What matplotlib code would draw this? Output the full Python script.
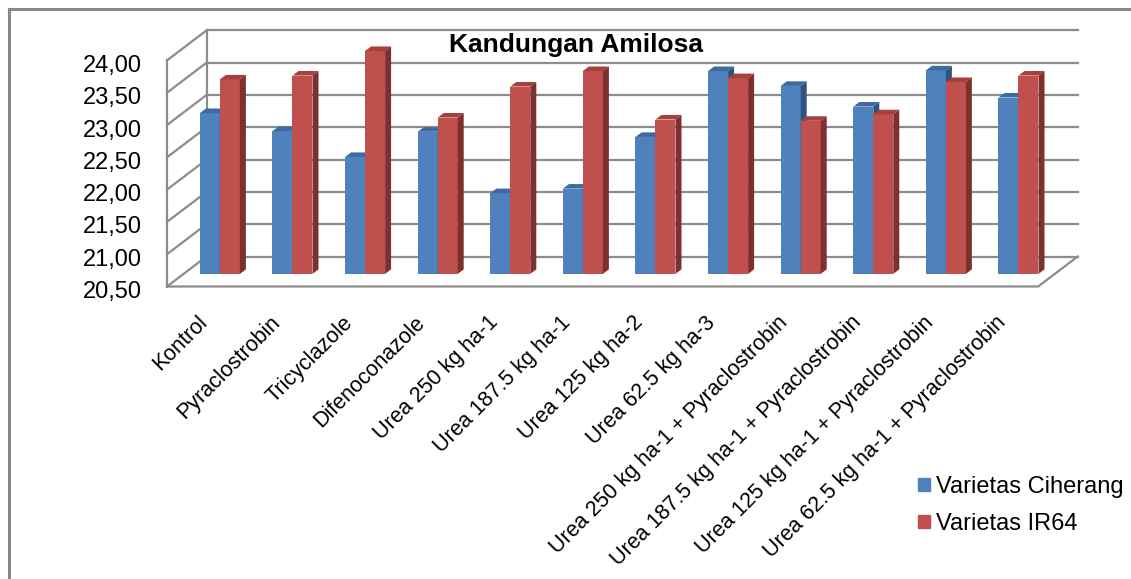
import matplotlib
matplotlib.use('Agg')
import matplotlib.pyplot as plt
from matplotlib.patches import Polygon, Patch
from matplotlib.lines import Line2D
from matplotlib.transforms import ScaledTranslation

plt.rcParams['font.family'] = ['Liberation Sans', 'DejaVu Sans']

# data
categories = ['Kontrol', 'Pyraclostrobin', 'Tricyclazole', 'Difenoconazole',
              'Urea 250 kg ha-1', 'Urea 187.5 kg ha-1', 'Urea 125 kg ha-2',
              'Urea 62.5 kg ha-3', 'Urea 250 kg ha-1 + Pyraclostrobin',
              'Urea 187.5 kg ha-1 + Pyraclostrobin', 'Urea 125 kg ha-1 + Pyraclostrobin',
              'Urea 62.5 kg ha-1 + Pyraclostrobin']
ciherang = [22.99, 22.71, 22.31, 22.70, 21.75, 21.82, 22.62, 23.64, 23.41, 23.09, 23.65, 23.23]
ir64 = [23.51, 23.57, 23.95, 22.92, 23.40, 23.64, 22.89, 23.53, 22.87, 22.97, 23.47, 23.57]
series_names = ['Varietas Ciherang', 'Varietas IR64']
yticks = [20.5, 21.0, 21.5, 22.0, 22.5, 23.0, 23.5, 24.0]
ymin = 20.5

# faces: front, top, side
blue = ('#4F81BD', '#3E6AA3', '#2F5380')
red = ('#C0504D', '#A5403D', '#7E302E')

W, H = 1131, 579
fig = plt.figure(figsize=(W / 100, H / 100), dpi=100)

# pixel scales of the reference (per category, per value unit)
cx, cy = 72.6, 64.6
x0_px, y0_px, x1_px, y1_px = 167, 286.5, 1079, 30
ax = fig.add_axes([x0_px / W, (H - y0_px) / H, (x1_px - x0_px) / W, (y0_px - y1_px) / H])
ax.set_xlim(-0.5, -0.5 + (x1_px - x0_px) / cx)
ax.set_ylim(ymin, ymin + (y0_px - y1_px) / cy)
for s in ax.spines.values():
    s.set_visible(False)

# depth vector of the 3D box, in data units
dx, dy = 39.5 / cx, 30 / cy
n = len(categories)
xl, xr = -0.5, n - 0.5
grid_kw = dict(color='#8c8c8c', lw=1.6, clip_on=False, zorder=1)

# back wall gridlines and left wall diagonals
for v in yticks:
    ax.plot([xl + dx, xr + dx], [v + dy, v + dy], **grid_kw)
    ax.plot([xl, xl + dx], [v, v + dy], **grid_kw)
ax.plot([xl, xl], [ymin, yticks[-1]], **grid_kw)
ax.plot([xl + dx, xl + dx], [ymin + dy, yticks[-1] + dy], **grid_kw)
# floor
ax.plot([xl, xr, xr + dx], [ymin, ymin, ymin + dy], **grid_kw)

# bars
f0, depth = 0.42, 0.152
w = 20 / cx
bdx, bdy = depth * dx, depth * dy
for k, (vals, cols) in enumerate([(ciherang, blue), (ir64, red)]):
    xs = [i - w + k * w + f0 * dx for i in range(n)]
    bottom = ymin + f0 * dy
    ax.bar(xs, [v - ymin for v in vals], width=w, bottom=bottom, align='edge',
           color=cols[0], zorder=3 + k, clip_on=False)
    for xb, v in zip(xs, vals):
        t = v + f0 * dy
        top = Polygon([(xb, t), (xb + w, t), (xb + w + bdx, t + bdy), (xb + bdx, t + bdy)],
                      closed=True, color=cols[1], lw=0, zorder=3 + k, clip_on=False)
        side = Polygon([(xb + w, bottom), (xb + w, t), (xb + w + bdx, t + bdy),
                        (xb + w + bdx, bottom + bdy)],
                       closed=True, color=cols[2], lw=0, zorder=3 + k, clip_on=False)
        ax.add_patch(top)
        ax.add_patch(side)

# axis labels
ax.set_yticks(yticks)
ax.set_yticklabels([f'{v:.2f}'.replace('.', ',') for v in yticks], fontsize=17)
ax.tick_params(axis='y', length=0, pad=18)
yoff = ScaledTranslation(0, -3 / 100, fig.dpi_scale_trans)
for lab in ax.get_yticklabels():
    lab.set_transform(lab.get_transform() + yoff)

ax.set_xticks(range(n))
ax.set_xticklabels(categories, fontsize=15.5, rotation=45, ha='right', va='center',
                   rotation_mode='anchor')
ax.tick_params(axis='x', length=0, pad=0)
off = ScaledTranslation(1 / 100, -33 / 100, fig.dpi_scale_trans)
for lab in ax.get_xticklabels():
    lab.set_transform(lab.get_transform() + off)

fig.text(576 / W, 1 - 45 / H, 'Kandungan Amilosa', ha='center', va='center',
         fontsize=19, fontweight='bold')

handles = [Patch(color=blue[0]), Patch(color=red[0])]
fig.legend(handles, series_names, loc='upper left', bbox_to_anchor=(918 / W, 1 - 476 / H),
           frameon=False, fontsize=17, handlelength=0.5, handleheight=0.5,
           handletextpad=0.25, labelspacing=0.62, borderpad=0, borderaxespad=0)

# outer chart border
bc = '#888888'
fig.add_artist(Line2D([8.7 / W, 8.7 / W], [0, 1 - 8.7 / H], transform=fig.transFigure, color=bc, lw=2.2))
fig.add_artist(Line2D([8.7 / W, 1], [1 - 8.7 / H, 1 - 8.7 / H], transform=fig.transFigure, color=bc, lw=2.2))

fig.savefig('out.png', dpi=100)
